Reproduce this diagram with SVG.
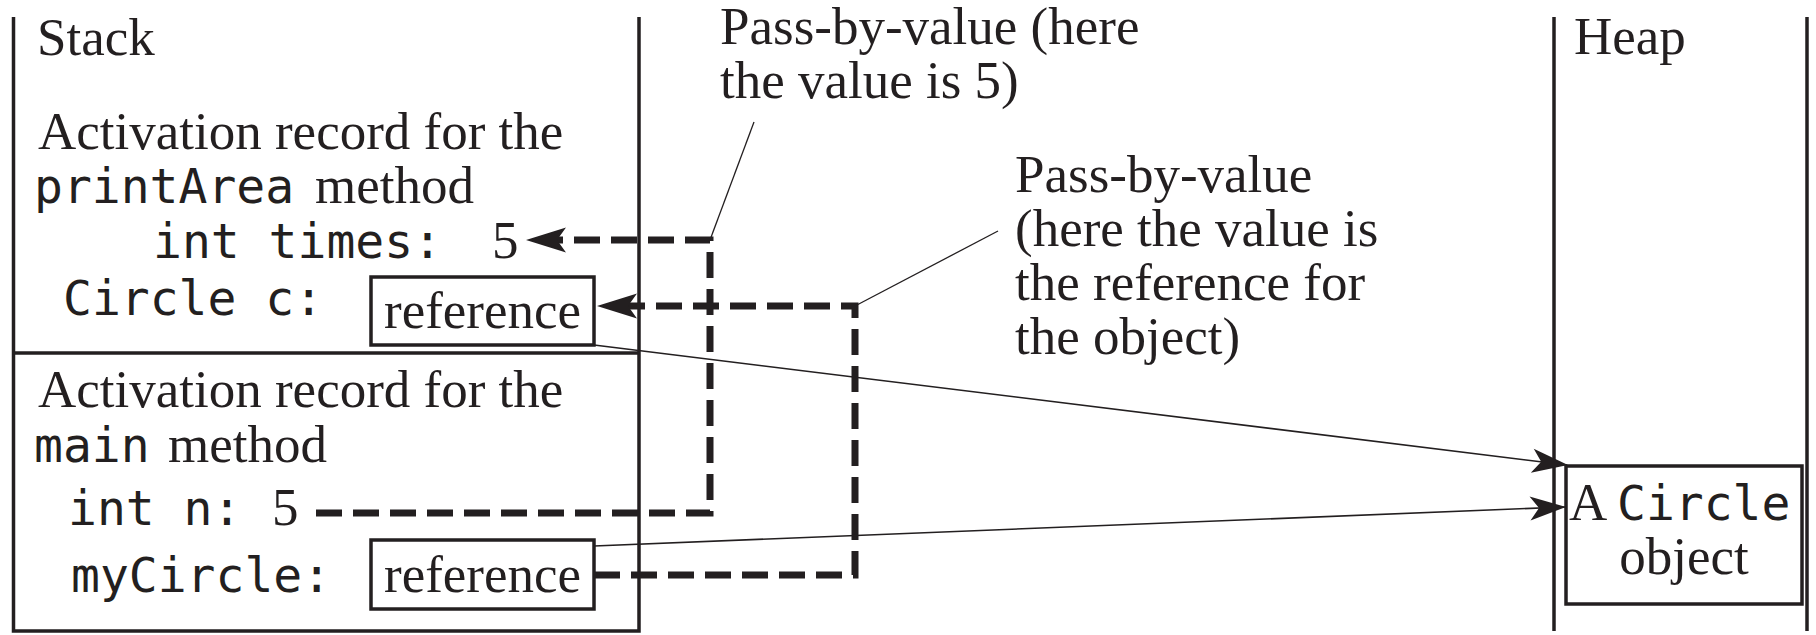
<svg xmlns="http://www.w3.org/2000/svg" width="1816" height="635" viewBox="0 0 1816 635">
  <style>
    .frame { stroke: #231f20; stroke-width: 3.5; fill: none; }
    .box { stroke: #231f20; stroke-width: 3.5; fill: #ffffff; }
    .serif { font-family: "Liberation Serif", "Times New Roman", serif; font-size: 53px; fill: #231f20; }
    .mono { font-family: "DejaVu Sans Mono", "Liberation Mono", monospace; font-size: 48px; fill: #231f20; }
    .dash { stroke: #231f20; stroke-width: 7; fill: none; stroke-dasharray: 26 11; }
    .thin { stroke: #231f20; stroke-width: 1.6; fill: none; }
    .leader { stroke: #231f20; stroke-width: 1.3; fill: none; }
  </style>
  <defs>
    <marker id="ah-thick" markerUnits="userSpaceOnUse" markerWidth="60" markerHeight="40" refX="0" refY="0" orient="auto" overflow="visible">
      <path d="M15,0 L-25,-12.5 L-16,0 L-25,12.5 Z" fill="#231f20"/>
    </marker>
    <marker id="ah-thin" markerUnits="userSpaceOnUse" markerWidth="60" markerHeight="40" refX="0" refY="0" orient="auto" overflow="visible">
      <path d="M1,0 L-35,-12 L-26,0 L-35,12 Z" fill="#231f20"/>
    </marker>
  </defs>

  <g id="stack">
    <path class="frame" d="M13.5,17 V631 H639 V17"/>
    <line class="frame" x1="13.5" y1="353" x2="639" y2="353"/>
    <text class="serif" x="37" y="55">Stack</text>
  </g>

  <g id="printArea-record">
    <text class="serif" x="38" y="149">Activation record for the</text>
    <text x="34" y="203"><tspan class="mono">printArea</tspan><tspan class="serif" x="315">method</tspan></text>
    <text class="mono" x="153" y="258">int times:</text>
    <text class="serif" x="492" y="258">5</text>
    <text class="mono" x="63" y="315">Circle c:</text>
    <g id="ref-c">
      <rect class="box" x="371" y="277" width="223" height="68"/>
      <text class="serif" x="384" y="328">reference</text>
    </g>
  </g>

  <g id="main-record">
    <text class="serif" x="38" y="407">Activation record for the</text>
    <text x="34" y="462"><tspan class="mono">main</tspan><tspan class="serif" x="168">method</tspan></text>
    <text class="mono" x="68" y="525">int n:</text>
    <text class="serif" x="272" y="525">5</text>
    <text class="mono" x="71" y="592">myCircle:</text>
    <g id="ref-myCircle">
      <rect class="box" x="371" y="540" width="223" height="69"/>
      <text class="serif" x="384" y="592">reference</text>
    </g>
  </g>

  <g id="heap">
    <line class="frame" x1="1554" y1="17" x2="1554" y2="631"/>
    <line class="frame" x1="1807" y1="17" x2="1807" y2="631"/>
    <text class="serif" x="1574" y="54">Heap</text>
  </g>

  <g id="circle-object">
    <rect class="box" x="1566" y="466" width="236" height="138"/>
    <text x="1569" y="520"><tspan class="serif">A</tspan><tspan class="mono" x="1617">Circle</tspan></text>
    <text class="serif" x="1684" y="574" text-anchor="middle">object</text>
  </g>

  <g id="label-value">
    <text class="serif" x="720" y="44">Pass-by-value (here</text>
    <text class="serif" x="720" y="98">the value is 5)</text>
  </g>

  <g id="label-reference">
    <text class="serif" x="1015" y="192">Pass-by-value</text>
    <text class="serif" x="1015" y="246">(here the value is</text>
    <text class="serif" x="1015" y="300">the reference for</text>
    <text class="serif" x="1015" y="354">the object)</text>
  </g>

  <g id="connectors">
    <path class="dash" d="M316,513 H710 V240 H541" marker-end="url(#ah-thick)"/>
    <path class="dash" d="M594,575 H855 V306 H612" marker-end="url(#ah-thick)"/>
    <line class="thin" x1="594" y1="345" x2="1567" y2="465" marker-end="url(#ah-thin)"/>
    <line class="thin" x1="594" y1="546" x2="1565" y2="507" marker-end="url(#ah-thin)"/>
    <line class="leader" x1="710" y1="240" x2="754" y2="122"/>
    <line class="leader" x1="855" y1="306" x2="998" y2="231"/>
  </g>
</svg>
